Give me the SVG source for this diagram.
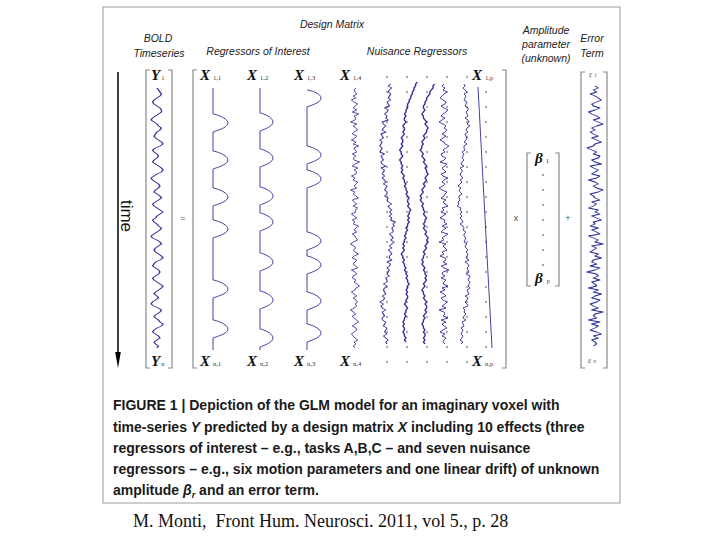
<svg xmlns="http://www.w3.org/2000/svg" xmlns:xlink="http://www.w3.org/1999/xlink" width="720" height="540" viewBox="0 0 720 540">
<style>
.lbl{font-family:"Liberation Sans",Arial,sans-serif;font-style:italic;font-size:10.5px;fill:#222;text-anchor:middle}
.mx{font-family:"Liberation Serif","Times New Roman",serif;font-weight:bold;font-style:italic;font-size:15px;fill:#111}
.sub{font-family:"Liberation Serif","Times New Roman",serif;font-weight:normal;font-style:normal;font-size:6.5px;fill:#333}
.br{fill:none;stroke:#8a8a8a;stroke-width:1.2}
.sig{fill:none;stroke:#30309a;stroke-width:0.9;stroke-linejoin:round}
.ns{fill:none;stroke:#30309a;stroke-width:0.9;stroke-linejoin:round;vector-effect:non-scaling-stroke}
.op{font-family:"Liberation Sans",Arial,sans-serif;font-size:9px;fill:#555;text-anchor:middle}
.cap{font-family:"Liberation Sans",Arial,sans-serif;font-weight:bold;font-size:14px;fill:#1a1a1a}
.cite{font-family:"Liberation Serif","Times New Roman",serif;font-size:18px;fill:#111}
</style>
<defs>
<polyline id="nH" points="0,0 1,2 2,4 3,6 2,8 0,10 -2,12 -3,14 -2,16 0,18 2,20 3,22 3,24 1,26 -1,28 -3,30 -4,32 -2,34 0,36 1,38 3,40 2,42 0,44 -1,46 -2,48 -1,50 1,52 3,54 4,56 2,58 -1,60 -3,62 -2,64 0,66 1,68 0,70 -2,72 -3,74 -1,76 1,78 3,80 4,82 3,84 0,86 -2,88 -4,90 -3,92 -1,94 1,96 2,98 1,100 -1,102 -2,104 0,106 2,108 3,110 1,112 -1,114 -3,116 -2,118 0,120 2,122 4,124 2,126 0,128 -1,130 -3,132 -2,134 0,136 1,138 3,140 2,142 0,144 -2,146 -4,148 -3,150 0,152 2,154 3,156 1,158 -1,160 -2,162 -1,164 1,166 3,168 4,170 2,172 -1,174 -2,176 -3,178 -1,180 1,182 2,184 1,186 -1,188 -3,190 -2,192 0,194 2,196 4,198 3,200 1,202 -1,204 -2,206 0,208 1,210 -1,212 -3,214 -4,216 -2,218 1,220 3,222 2,224 0,226 -2,228 -1,230 1,232 2,234 4,236 3,238 0,240 -2,242 -3,244 -1,246 1,248 2,250 0,252 -2,254 -1,256 1,258 0,260"/>
<polyline id="nE" points="0,0 2,2 -1,4 1,6 -3,8 0,10 2,12 4,14 1,16 -2,18 -1,20 3,22 0,24 -4,26 -2,28 1,30 3,32 -1,34 2,36 5,38 1,40 -2,42 0,44 -3,46 -1,48 2,50 -2,52 1,54 4,56 0,58 -1,60 -5,62 -2,64 1,66 -1,68 3,70 2,72 -2,74 0,76 4,78 -3,80 -1,82 2,84 0,86 -2,88 3,90 1,92 -4,94 0,96 2,98 -1,100 1,102 5,104 2,106 -3,108 -1,110 0,112 3,114 -2,116 1,118 -1,120 -4,122 2,124 0,126 3,128 -2,130 1,132 4,134 -1,136 0,138 -3,140 2,142 -2,144 1,146 3,148 -4,150 -1,152 2,154 0,156 5,158 -2,160 1,162 -1,164 -3,166 2,168 0,170 4,172 -1,174 -2,176 1,178 -3,180 3,182 0,184 -5,186 1,188 2,190 -1,192 3,194 -2,196 0,198 1,200 -4,202 2,204 -1,206 4,208 0,210 -2,212 3,214 1,216 -3,218 -1,220 2,222 -2,224 5,226 0,228 -1,230 1,232 -4,234 3,236 -2,238 2,240 0,242 -3,244 1,246 4,248 -1,250 2,252 -2,254 0,256 1,258 -1,260"/>
<polyline id="nF" points="0,0 1,2 -1,4 1,6 3,8 0,10 2,12 1,14 0,16 3,18 2,20 1,22 4,24 4,26 2,28 3,30 4,32 1,34 4,36 5,38 3,40 6,42 3,44 2,46 4,48 1,50 2,52 3,54 2,56 0,58 3,60 0,62 0,64 1,66 -2,68 0,70 -1,72 -2,74 0,76 -2,78 -3,80 0,82 -4,84 -2,86 -2,88 -4,90 -3,92 -1,94 -4,96 -2,98 -4,100 -6,102 -3,104 -5,106 -4,108 -2,110 -5,112 -5,114 -4,116 -6,118 -5,120 -7,122 -3,124 -4,126 -2,128 -4,130 -2,132 -4,134 -2,136 -1,138 -4,140 -1,142 0,144 -1,146 2,148 0,150 0,152 2,154 1,156 0,158 3,160 1,162 2,164 4,166 2,168 4,170 3,172 2,174 5,176 1,178 4,180 5,182 3,184 4,186 5,188 2,190 6,192 5,194 4,196 6,198 5,200 4,202 6,204 3,206 4,208 5,210 1,212 4,214 3,216 1,218 3,220 4,222 -1,224 1,226 0,228 2,230 0,232 -1,234 2,236 -2,238 -1,240 0,242 -3,244 -1,246 -2,248 -3,250 -1,252 -2,254 -4,256 -1,258 -3,260"/>
<polyline id="nG" points="7,0 6,2 6,4 5,6 5,8 4,10 4,12 3,14 3,16 2,18 2,20 1,22 1,24 1,26 0,28 0,30 -1,32 0,34 -1,36 -1,38 0,40 -1,42 -2,44 -1,46 -1,48 -2,50 -1,52 -2,54 -3,56 -2,58 -2,60 -3,62 -2,64 -3,66 -4,68 -3,70 -3,72 -2,74 -3,76 -4,78 -3,80 -3,82 -2,84 -3,86 -2,88 -3,90 -2,92 -1,94 -2,96 -1,98 -1,100 0,102 -1,104 0,106 0,108 1,110 0,112 1,114 2,116 1,118 1,120 2,122 1,124 2,126 3,128 2,130 2,132 1,134 2,136 1,138 2,140 1,142 1,144 0,146 1,148 0,150 0,152 -1,154 0,156 -1,158 -1,160 -2,162 -1,164 -2,166 -1,168 -2,170 -3,172 -2,174 -2,176 -1,178 -2,180 -1,182 -1,184 0,186 -1,188 0,190 0,192 1,194 0,196 1,198 1,200 2,202 1,204 1,206 0,208 1,210 0,212 1,214 1,216 0,218 0,220 -1,222 0,224 1,226 0,228 0,230 -1,232 0,234 -1,236 -1,238 -2,240 -1,242 -2,244 -1,246 -1,248 -2,250 -1,252 -1,254 0,256 -1,258 0,260"/>
<polyline id="nK" points="6,0 5,2 5,4 4,6 3,8 3,10 2,12 1,14 1,16 0,18 0,20 -1,22 -1,24 0,26 -1,28 -2,30 -1,32 -1,34 0,36 1,38 0,40 1,42 2,44 1,46 1,48 0,50 -1,52 0,54 -1,56 -2,58 -1,60 -2,62 -2,64 -3,66 -2,68 -1,70 -2,72 -1,74 0,76 -1,78 0,80 1,82 0,84 1,86 1,88 2,90 1,92 0,94 1,96 0,98 -1,100 0,102 -1,104 -2,106 -1,108 -2,110 -3,112 -2,114 -3,116 -2,118 -1,120 -2,122 -1,124 -1,126 0,128 -1,130 0,132 1,134 0,136 0,138 -1,140 0,142 -1,144 0,146 1,148 0,150 1,152 2,154 1,156 2,158 1,160 0,162 1,164 0,166 -1,168 0,170 -1,172 -1,174 -2,176 -1,178 -2,180 -1,182 0,184 -1,186 0,188 0,190 1,192 0,194 1,196 0,198 -1,200 0,202 -1,204 -2,206 -1,208 -1,210 0,212 -1,214 0,216 1,218 0,220 1,222 1,224 0,226 1,228 0,230 -1,232 0,234 -1,236 -1,238 -2,240 -1,242 -1,244 0,246 -1,248 0,250 0,252 -1,254 0,256 -1,258 0,260"/>
<pattern id="dots" patternUnits="userSpaceOnUse" x="377" y="69.5" width="20" height="15"><circle cx="10" cy="7.5" r="0.8" fill="#333"/></pattern>
<pattern id="dots2" patternUnits="userSpaceOnUse" x="482" y="84.5" width="8" height="15"><circle cx="4" cy="7.5" r="0.8" fill="#333"/></pattern>
</defs>
<rect x="0" y="0" width="720" height="540" fill="#fff"/>
<rect x="103" y="7" width="517" height="496" fill="none" stroke="#9a9a9a" stroke-width="1"/>

<g id="headers">
<text class="lbl" x="332" y="28">Design Matrix</text>
<text class="lbl" x="158" y="42">BOLD</text>
<text class="lbl" x="159" y="57">Timeseries</text>
<text class="lbl" x="258" y="55">Regressors of Interest</text>
<text class="lbl" x="417" y="55">Nuisance Regressors</text>
<text class="lbl" x="546" y="34">Amplitude</text>
<text class="lbl" x="546" y="48">parameter</text>
<text class="lbl" x="546" y="62">(unknown)</text>
<text class="lbl" x="592" y="42">Error</text>
<text class="lbl" x="592" y="57">Term</text>
</g>

<g id="time-axis">
<line x1="118" y1="72" x2="118" y2="356" stroke="#000" stroke-width="1.5"/>
<path d="M115.2,352 L118,368 L120.8,352 Z" fill="#000"/>
<text transform="translate(121,216) rotate(90)" font-family="Liberation Sans, Arial, sans-serif" font-size="17" text-anchor="middle" fill="#111">time</text>
</g>

<g id="bold-timeseries">
<path class="br" d="M150,70 H146 V368 H150 M168,70 H172 V368 H168"/>
<text class="mx" x="151" y="80" font-size="13">Y<tspan class="sub" dx="1">1</tspan></text>
<text class="mx" x="151" y="366" font-size="13">Y<tspan class="sub" dx="1">n</tspan></text>
<use xlink:href="#nH" class="ns" transform="translate(157,88) scale(1.5,1)"/>
</g>

<text class="op" x="183" y="221">=</text>

<g id="design-matrix">
<path class="br" d="M197,70 H193 V368 H197 M502,70 H506 V368 H502"/>
<rect x="377" y="69.5" width="100" height="300" fill="url(#dots)"/>
<rect x="482" y="84.5" width="8" height="270" fill="url(#dots2)"/>
<g id="labels-top">
<text class="mx" x="200" y="80">X<tspan class="sub" dx="3">1,1</tspan></text>
<text class="mx" x="247" y="80">X<tspan class="sub" dx="3">1,2</tspan></text>
<text class="mx" x="294" y="80">X<tspan class="sub" dx="3">1,3</tspan></text>
<text class="mx" x="340" y="80">X<tspan class="sub" dx="3">1,4</tspan></text>
<text class="mx" x="472" y="80">X<tspan class="sub" dx="3">1,p</tspan></text>
</g>
<g id="labels-bottom">
<text class="mx" x="200" y="366">X<tspan class="sub" dx="3">n,1</tspan></text>
<text class="mx" x="247" y="366">X<tspan class="sub" dx="3">n,2</tspan></text>
<text class="mx" x="294" y="366">X<tspan class="sub" dx="3">n,3</tspan></text>
<text class="mx" x="340" y="366">X<tspan class="sub" dx="3">n,4</tspan></text>
<text class="mx" x="472" y="366">X<tspan class="sub" dx="3">n,p</tspan></text>
</g>
<path id="x1" class="sig" d="M213,88 L213,114 C215,114 228,118 228,123 C228,128 215,131 213,132 L213,151 C215,151 228,155 228,160 C228,165 215,168 213,169 L213,188 C215,188 228,192 228,197 C228,202 215,205 213,206 L213,220 C215,220 228,224 228,229 C228,234 215,237 213,238 L213,280 C215,280 228,284 228,289 C228,294 215,297 213,298 L213,320 C215,320 228,324 228,329 C228,334 215,337 213,338 L213,350"/>
<path id="x2" class="sig" d="M260,88 L260,113 C262,113 273,117 273,122 C273,127 262,130 260,131 L260,149 C262,149 273,153 273,158 C273,163 262,166 260,167 L260,187 C262,187 273,191 273,196 C273,201 262,204 260,205 L260,213 C262,213 273,217 273,222 C273,227 262,230 260,231 L260,253 C262,253 273,257 273,262 C273,267 262,270 260,271 L260,291 C262,291 273,295 273,300 C273,305 262,308 260,309 L260,329 C262,329 273,333 273,338 C273,343 262,346 260,347 L260,350"/>
<path id="x3" class="sig" d="M307,90 C309,90 321,93 321,98 C321,103 309,106 307,107 L307,146 C309,146 321,150 321,155 C321,160 309,163 307,164 L307,170 C309,170 321,174 321,179 C321,184 309,187 307,188 L307,232 C309,232 321,236 321,241 C321,246 309,249 307,250 L307,256 C309,256 321,260 321,265 C321,270 309,273 307,274 L307,292 C309,292 321,296 321,301 C321,306 309,309 307,310 L307,324 C309,324 321,328 321,333 C321,338 309,341 307,342 L307,350"/>
<use xlink:href="#nE" class="ns" transform="translate(355,348) scale(-0.9,-1)"/>
<use xlink:href="#nF" class="ns" transform="translate(387,344) scale(-1.2,-1)"/>
<use xlink:href="#nG" class="ns" transform="translate(406,82) scale(1.6,1)"/>
<use xlink:href="#nK" class="ns" transform="translate(425,84) scale(1.6,1)"/>
<use xlink:href="#nE" class="ns" transform="translate(444,84) scale(-1,1)"/>
<use xlink:href="#nF" class="ns" transform="translate(464,84) scale(1,1)"/>
<line class="sig" x1="478" y1="87" x2="492" y2="348"/>
</g>

<text class="op" x="516" y="221">x</text>

<g id="beta">
<path class="br" d="M531,153 H527 V286 H531 M555,153 H559 V286 H555"/>
<text class="mx" x="535" y="163" font-size="13">β<tspan class="sub" dx="3">1</tspan></text>
<text class="mx" x="535" y="283" font-size="13">β<tspan class="sub" dx="4">p</tspan></text>
<g fill="#333"><circle cx="543" cy="175" r="0.8"/><circle cx="543" cy="190" r="0.8"/><circle cx="543" cy="205" r="0.8"/><circle cx="543" cy="220" r="0.8"/><circle cx="543" cy="235" r="0.8"/><circle cx="543" cy="250" r="0.8"/><circle cx="543" cy="265" r="0.8"/></g>
</g>

<text class="op" x="568" y="221">+</text>

<g id="error">
<path class="br" d="M585,72 H581 V368 H585 M603,72 H607 V368 H603"/>
<text x="589" y="77" font-family="Liberation Serif, serif" font-style="italic" font-size="8" fill="#555">ε<tspan font-size="5.5" dx="2">1</tspan></text>
<text x="588" y="363" font-family="Liberation Serif, serif" font-style="italic" font-size="8" fill="#555">ε<tspan font-size="5.5" dx="2">n</tspan></text>
<use xlink:href="#nE" class="ns" transform="translate(595,86) scale(1.6,1)"/>
</g>

<g id="caption">
<text class="cap" x="113" y="410">FIGURE 1 | Depiction of the GLM model for an imaginary voxel with</text>
<text class="cap" x="113" y="431.5">time-series <tspan font-style="italic">Y</tspan> predicted by a design matrix <tspan font-style="italic">X</tspan> including 10 effects (three</text>
<text class="cap" x="113" y="452.5">regressors of interest – e.g., tasks A,B,C – and seven nuisance</text>
<text class="cap" x="113" y="473.5">regressors – e.g., six motion parameters and one linear drift) of unknown</text>
<text class="cap" x="113" y="494.5">amplitude <tspan font-style="italic">β</tspan><tspan font-style="italic" font-size="9" dy="3">r</tspan><tspan dy="-3"> and an error term.</tspan></text>
</g>

<text class="cite" x="133" y="527" xml:space="preserve">M. Monti,  Front Hum. Neurosci. 2011, vol 5., p. 28</text>
</svg>
